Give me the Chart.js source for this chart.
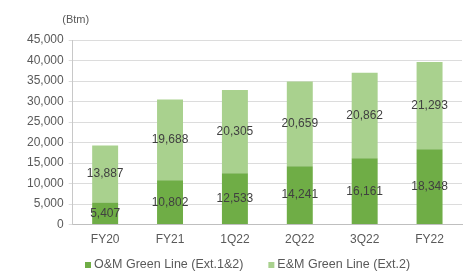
<!DOCTYPE html>
<html>
<head>
<meta charset="utf-8">
<script src="https://cdn.jsdelivr.net/npm/chart.js@4"></script>
<style>
  html, body { margin: 0; padding: 0; background: #fff; }
</style>
</head>
<body>
<canvas id="chart" width="469" height="275"></canvas>
<script>
const categories = ['FY20', 'FY21', '1Q22', '2Q22', '3Q22', 'FY22'];
const omValues = [5407, 10802, 12533, 14241, 16161, 18348];
const emValues = [13887, 19688, 20305, 20659, 20862, 21293];
const seriesNames = ['O&M Green Line (Ext.1&2)', 'E&M Green Line (Ext.2)'];
const unitLabel = '(Btm)';

const textColor = '#595959';
const fontFamily = '"Liberation Sans", Arial, sans-serif';

// numbers in the middle of each segment
const segmentLabels = {
    id: 'segmentLabels',
    afterDatasetsDraw(chart) {
        const ctx = chart.ctx;
        ctx.save();
        ctx.font = '12px ' + fontFamily;
        ctx.fillStyle = '#404040';
        ctx.textAlign = 'center';
        ctx.textBaseline = 'middle';
        chart.data.datasets.forEach((ds, i) => {
            chart.getDatasetMeta(i).data.forEach((bar, j) => {
                const p = bar.getCenterPoint();
                ctx.fillText(ds.data[j].toLocaleString('en-US'), p.x, p.y);
            });
        });
        ctx.restore();
    }
};

// unit caption and the legend row under the axis
const extras = {
    id: 'extras',
    afterDraw(chart) {
        const ctx = chart.ctx;
        const area = chart.chartArea;
        ctx.save();
        ctx.font = '11px ' + fontFamily;
        ctx.fillStyle = textColor;
        ctx.textAlign = 'center';
        ctx.textBaseline = 'middle';
        ctx.fillText(unitLabel, area.left + 3, 20);

        ctx.font = '12.5px ' + fontFamily;
        ctx.textAlign = 'left';
        const y = 265;
        let x = 85;
        chart.data.datasets.forEach(ds => {
            ctx.fillStyle = ds.backgroundColor;
            ctx.fillRect(x, y - 3, 6, 6);
            ctx.fillStyle = textColor;
            ctx.fillText(ds.label, x + 9, y);
            x += 9 + ctx.measureText(ds.label).width + 25;
        });
        ctx.restore();
    }
};

new Chart(document.getElementById('chart').getContext('2d'), {
    type: 'bar',
    data: {
        labels: categories,
        datasets: [{
            label: seriesNames[0],
            data: omValues,
            backgroundColor: '#6fad46'
        }, {
            label: seriesNames[1],
            data: emValues,
            backgroundColor: '#a9d18e'
        }]
    },
    options: {
        responsive: false,
        animation: false,
        layout: { padding: { left: 22, right: 7, top: 40, bottom: 28 } },
        datasets: {
            bar: { categoryPercentage: 0.4, barPercentage: 1 }
        },
        scales: {
            x: {
                stacked: true,
                grid: { display: false },
                border: { color: '#bfbfbf', width: 1 },
                ticks: { color: textColor, font: { family: fontFamily, size: 12 }, padding: 0 }
            },
            y: {
                stacked: true,
                min: 0,
                max: 45000,
                ticks: {
                    stepSize: 5000,
                    color: textColor,
                    font: { family: fontFamily, size: 12 },
                    padding: 5,
                    callback: v => v.toLocaleString('en-US')
                },
                grid: { color: '#dcdcdc', tickLength: 4 },
                border: { color: '#c8c8c8', width: 1 }
            }
        },
        plugins: {
            legend: { display: false },
            tooltip: { enabled: false }
        }
    },
    plugins: [segmentLabels, extras]
});
</script>
</body>
</html>
